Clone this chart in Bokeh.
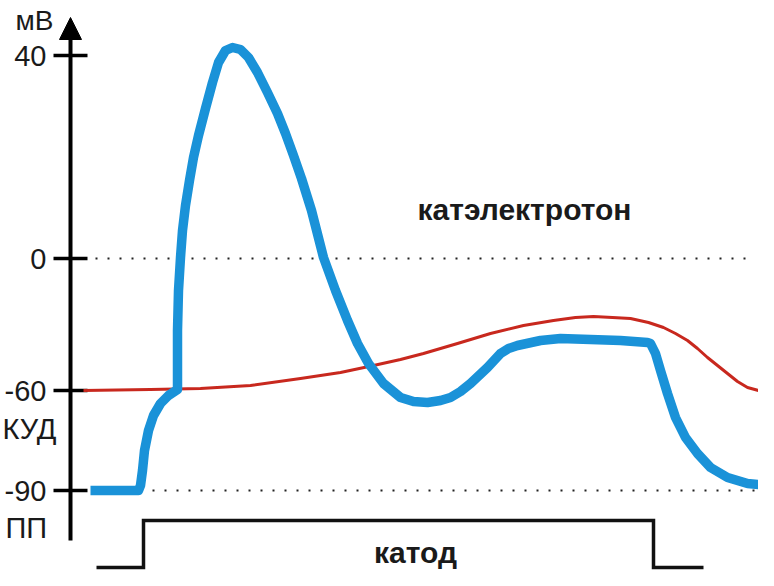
from bokeh.plotting import figure
from bokeh.models import Range1d, Arrow, NormalHead
from bokeh.core.properties import value
from bokeh.embed import file_html
from bokeh.resources import INLINE

# ---- data (schematic units: x = time, y = display level) ----
ap_t = [90, 138, 140, 142, 144, 148, 153, 160, 168, 177, 177, 177, 178, 180, 182, 185, 189, 193,
        198, 205, 212, 218, 225, 232, 240, 248, 257, 267, 277, 285, 293, 301, 311, 323, 335, 347,
        357, 368, 383, 400, 413, 427, 440, 450, 460, 470, 487, 500, 508, 517, 540, 560, 590, 620,
        647, 650, 655, 660, 667, 675, 685, 697, 710, 727, 747, 770]
ap_v = [96, 96, 101, 116, 136, 156, 171, 183, 191, 197, 216, 256, 296, 329, 356, 381, 406, 429,
        451, 478, 504, 524, 536, 539, 537, 529, 514, 494, 473, 453, 431, 408, 376, 329, 296, 266,
        243, 223, 203, 189, 185, 184, 186, 189, 195, 203, 219, 233, 238, 241, 246, 248, 247, 246,
        244, 243, 233, 216, 193, 169, 149, 133, 119, 109, 103, 101]

thr_t = [83, 150, 200, 250, 300, 340, 373, 400, 423, 440, 457, 490, 523, 553, 575, 593, 612, 630,
         648, 663, 675, 687, 697, 707, 717, 727, 737, 747, 758, 770]
thr_v = [196, 197, 198, 201, 208, 214, 221, 227, 233, 238, 243, 253, 261, 266, 269, 270, 269, 268,
         264, 259, 253, 246, 238, 229, 221, 213, 205, 199, 196, 194]

stim_t = [96, 143, 143, 653, 653, 703]
stim_v = [19, 19, 66, 66, 19, 19]

tick_labels = ["40", "0", "-60", "-90"]
tick_pos = [531, 328, 196, 96]
sub_labels = ["КУД", "ПП"]
sub_label_x = [2, 5]
sub_label_mid = [158, 59]

zero_line = (95, 750, 328)
rest_line = (140, 760, 96)

axis_x = 70
axis_bottom = 46
axis_top = 569

BLUE = "#1A92D8"
RED = "#C8281E"
FONT = value("Liberation Sans")

p = figure(width=758, height=570, output_backend="svg", toolbar_location=None,
           x_range=Range1d(0, 758), y_range=Range1d(16, 586),
           x_axis_type=None, y_axis_type=None, min_border=0)
p.grid.visible = False
p.outline_line_color = None
p.background_fill_color = "white"

# dotted reference lines
for x0, x1, yy in (zero_line, rest_line):
    p.line([x0, x1], [yy, yy], line_color="#222222", line_width=2.2, line_dash="2 10")

# axis with arrow
p.add_layout(Arrow(end=NormalHead(size=22, fill_color="black", line_color="black"),
                   x_start=axis_x, y_start=axis_bottom, x_end=axis_x, y_end=axis_top,
                   line_width=4, line_color="black"))
p.segment(x0=[axis_x - 17] * 4, x1=[axis_x + 17] * 4, y0=tick_pos, y1=tick_pos,
          line_color="black", line_width=3.5)
p.text(x=[axis_x - 24] * 4, y=tick_pos, text=tick_labels, text_align="right",
       text_baseline="middle", text_font=FONT, text_font_size="29px", text_color="#1a1a1a")
p.text(x=sub_label_x, y=sub_label_mid, text=sub_labels, text_align="left",
       text_baseline="middle", text_font=FONT, text_font_size="29px", text_color="#1a1a1a")
p.text(x=[34], y=[566], text=["мВ"], text_align="center", text_baseline="middle",
       text_font=FONT, text_font_size="28px", text_color="#1a1a1a")

# threshold (red) and potential (blue)
p.line(thr_t, thr_v, line_color=RED, line_width=3, line_join="round")
p.line(ap_t, ap_v, line_color=BLUE, line_width=9.5, line_join="round", line_cap="butt")

# stimulus
p.line(stim_t, stim_v, line_color="#111111", line_width=3.5, line_join="miter")

p.text(x=[524], y=[377], text=["катэлектротон"], text_align="center", text_baseline="middle",
       text_font=FONT, text_font_size="30px", text_font_style="bold", text_color="#1a1a1a")
p.text(x=[415], y=[34], text=["катод"], text_align="center", text_baseline="middle",
       text_font=FONT, text_font_size="30px", text_font_style="bold", text_color="#1a1a1a")

open("out.html", "w").write(file_html(p, INLINE))
